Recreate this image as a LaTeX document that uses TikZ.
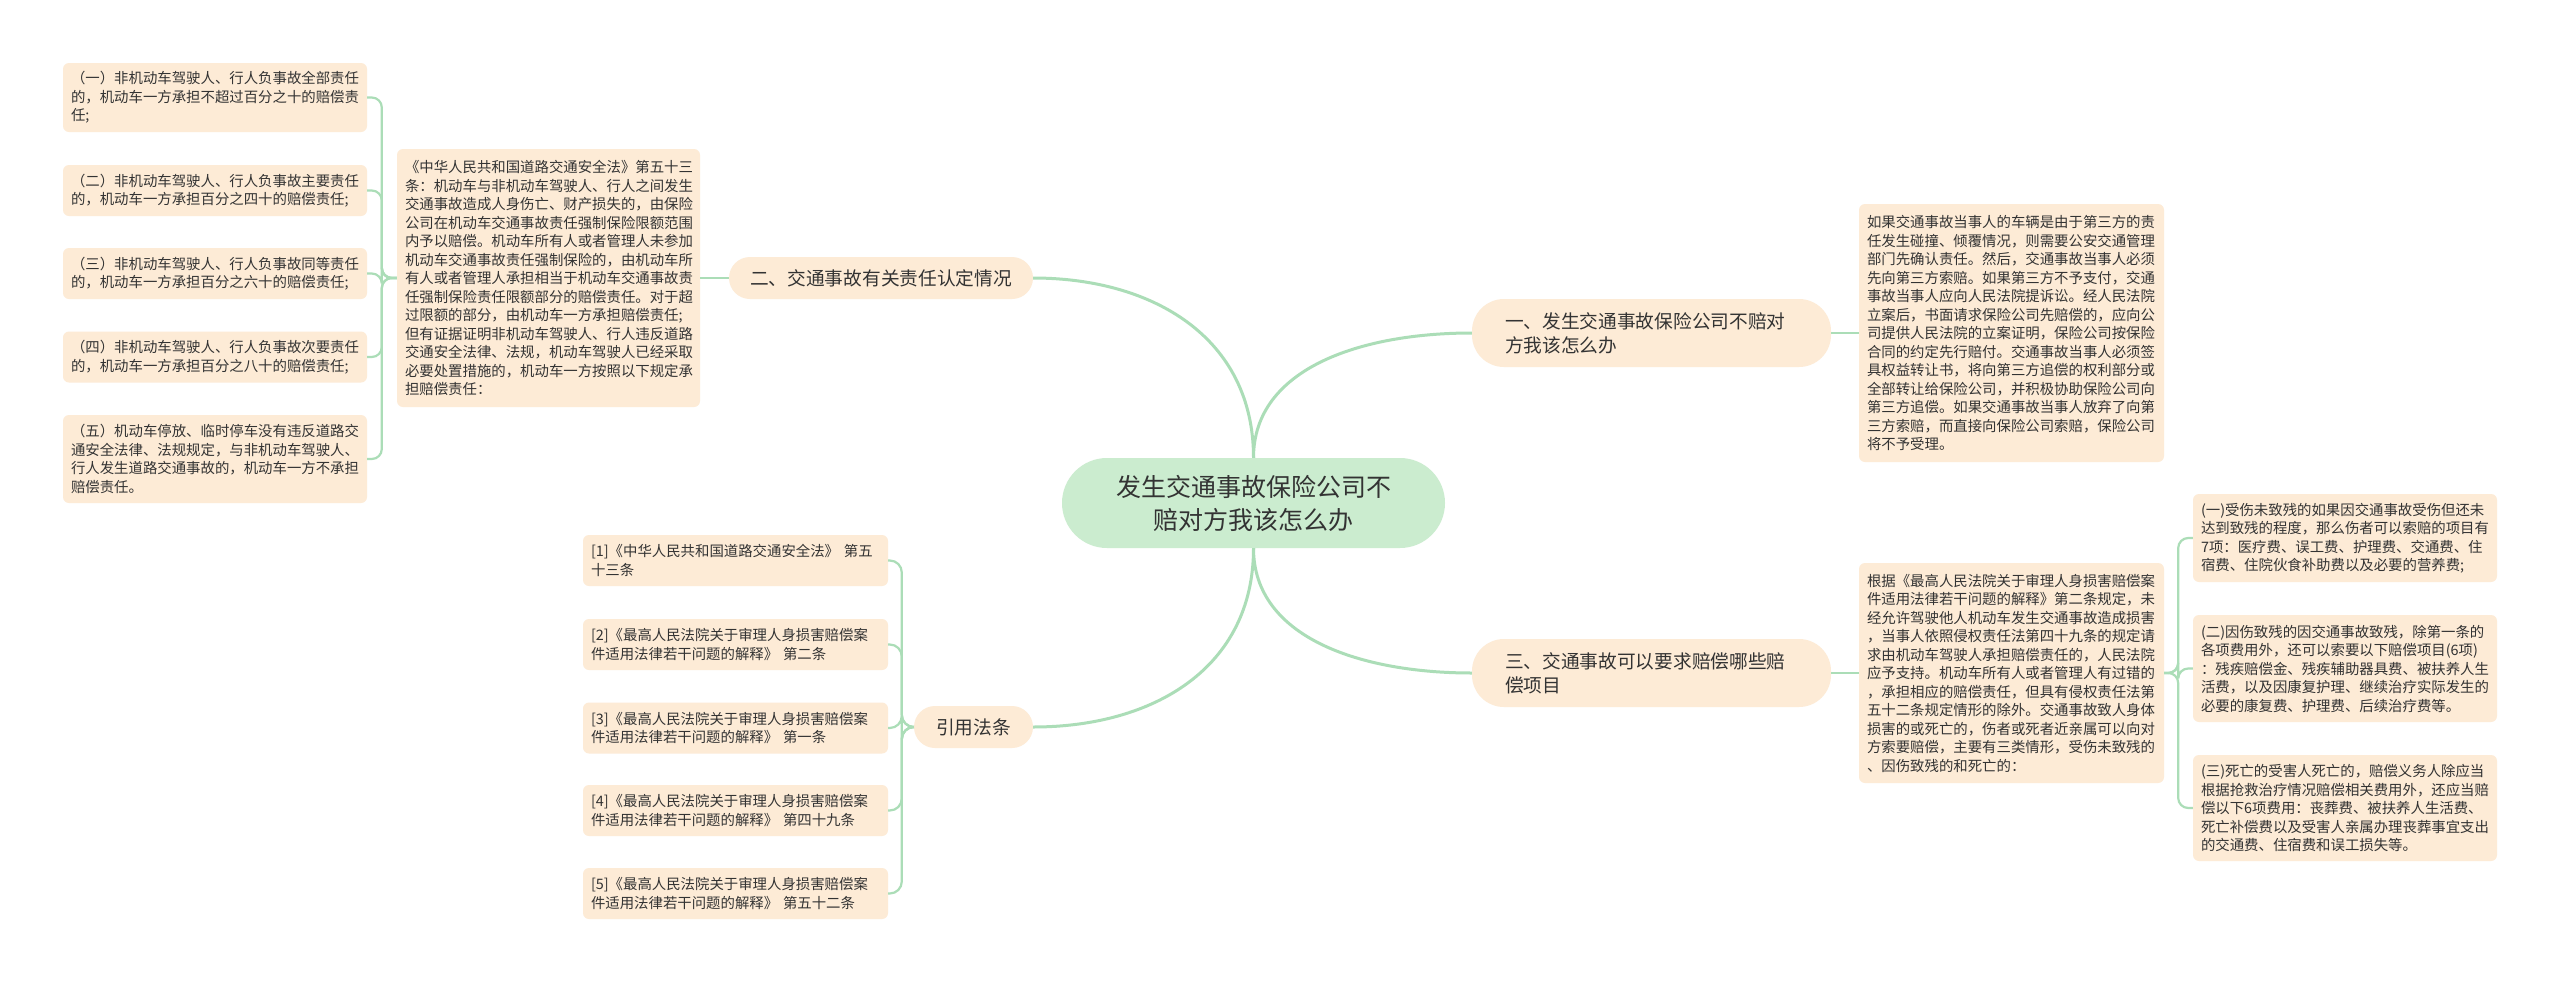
\documentclass[tikz,border=0pt]{standalone}
\usepackage{fontspec}
\setmainfont{Noto Sans CJK SC}
\definecolor{peach}{HTML}{FDEBD6}
\definecolor{rootg}{HTML}{CBECCF}
\definecolor{lineg}{HTML}{ABDDB7}
\definecolor{txt}{HTML}{333333}
\tikzset{
  box/.style={fill=peach, rounded corners=6pt, inner xsep=8pt, inner ysep=0pt, align=left, text=txt,
    font=\fontsize{14.4}{18.5}\selectfont},
  branchbox/.style={fill=peach, inner xsep=0pt, inner ysep=0pt, text=txt,
    font=\fontsize{18.7}{24}\selectfont},
  conn/.style={draw=lineg, line width=2.2pt},
  main/.style={draw=lineg, line width=3pt},
}
\begin{document}
\begin{tikzpicture}[x=1pt,y=-1pt]
\fill[white] (0,0) rectangle (2560,983);
\useasboundingbox (0,0) rectangle (2560,983);

% root
\node[fill=rootg, rounded corners=45pt, minimum width=383pt, minimum height=90pt, inner sep=0pt, align=center, text=txt,
  font=\fontsize{25}{33}\selectfont] (root) at (1253.5,503) {发生交通事故保险公司不\\赔对方我该怎么办};

% branches
\node[branchbox, rounded corners=21pt, minimum width=304pt, minimum height=42pt, align=center] (b2) at (881,278) {二、交通事故有关责任认定情况};
\node[branchbox, rounded corners=32pt, minimum height=68pt, text width=359pt, align=left] (b1) at (1651.5,333) {\hspace*{33pt}一、发生交通事故保险公司不赔对\\\hspace*{33pt}方我该怎么办};
\node[branchbox, rounded corners=32pt, minimum height=68pt, text width=359pt, align=left] (b3) at (1651.5,673) {\hspace*{33pt}三、交通事故可以要求赔偿哪些赔\\\hspace*{33pt}偿项目};
\node[branchbox, rounded corners=21pt, minimum width=119pt, minimum height=42pt, align=center] (cite) at (973.5,727) {引用法条};

% left big text
\node[box, text width=287pt, minimum height=258pt] (law) at (548.5,278) {《中华人民共和国道路交通安全法》第五十三\\条：机动车与非机动车驾驶人、行人之间发生\\交通事故造成人身伤亡、财产损失的，由保险\\公司在机动车交通事故责任强制保险限额范围\\内予以赔偿。机动车所有人或者管理人未参加\\机动车交通事故责任强制保险的，由机动车所\\有人或者管理人承担相当于机动车交通事故责\\任强制保险责任限额部分的赔偿责任。对于超\\过限额的部分，由机动车一方承担赔偿责任;\\但有证据证明非机动车驾驶人、行人违反道路\\交通安全法律、法规，机动车驾驶人已经采取\\必要处置措施的，机动车一方按照以下规定承\\担赔偿责任：};

% left leaves
\node[box, text width=288pt, minimum height=69pt] (l1) at (215,97.5) {（一）非机动车驾驶人、行人负事故全部责任\\的，机动车一方承担不超过百分之十的赔偿责\\任;};
\node[box, text width=288pt, minimum height=51pt] (l2) at (215,190.5) {（二）非机动车驾驶人、行人负事故主要责任\\的，机动车一方承担百分之四十的赔偿责任;};
\node[box, text width=288pt, minimum height=51pt] (l3) at (215,273.5) {（三）非机动车驾驶人、行人负事故同等责任\\的，机动车一方承担百分之六十的赔偿责任;};
\node[box, text width=288pt, minimum height=51pt] (l4) at (215,357) {（四）非机动车驾驶人、行人负事故次要责任\\的，机动车一方承担百分之八十的赔偿责任;};
\node[box, text width=288pt, minimum height=88pt] (l5) at (215,459) {（五）机动车停放、临时停车没有违反道路交\\通安全法律、法规规定，与非机动车驾驶人、\\行人发生道路交通事故的，机动车一方不承担\\赔偿责任。};

% right big texts
\node[box, text width=289pt, minimum height=258pt] (r1) at (2011.5,333) {如果交通事故当事人的车辆是由于第三方的责\\任发生碰撞、倾覆情况，则需要公安交通管理\\部门先确认责任。然后，交通事故当事人必须\\先向第三方索赔。如果第三方不予支付，交通\\事故当事人应向人民法院提诉讼。经人民法院\\立案后，书面请求保险公司先赔偿的，应向公\\司提供人民法院的立案证明，保险公司按保险\\合同的约定先行赔付。交通事故当事人必须签\\具权益转让书，将向第三方追偿的权利部分或\\全部转让给保险公司，并积极协助保险公司向\\第三方追偿。如果交通事故当事人放弃了向第\\三方索赔，而直接向保险公司索赔，保险公司\\将不予受理。};
\node[box, text width=289pt, minimum height=220pt] (r3) at (2011.5,673) {根据《最高人民法院关于审理人身损害赔偿案\\件适用法律若干问题的解释》第二条规定，未\\经允许驾驶他人机动车发生交通事故造成损害\\，当事人依照侵权责任法第四十九条的规定请\\求由机动车驾驶人承担赔偿责任的，人民法院\\应予支持。机动车所有人或者管理人有过错的\\，承担相应的赔偿责任，但具有侵权责任法第\\五十二条规定情形的除外。交通事故致人身体\\损害的或死亡的，伤者或死者近亲属可以向对\\方索要赔偿，主要有三类情形，受伤未致残的\\、因伤致残的和死亡的：};

% right leaves
\node[box, text width=288pt, minimum height=88pt] (ra) at (2345,538) {(一)受伤未致残的如果因交通事故受伤但还未\\达到致残的程度，那么伤者可以索赔的项目有\\7项：医疗费、误工费、护理费、交通费、住\\宿费、住院伙食补助费以及必要的营养费;};
\node[box, text width=288pt, minimum height=107pt] (rb) at (2345,668.5) {(二)因伤致残的因交通事故致残，除第一条的\\各项费用外，还可以索要以下赔偿项目(6项)\\：残疾赔偿金、残疾辅助器具费、被扶养人生\\活费，以及因康复护理、继续治疗实际发生的\\必要的康复费、护理费、后续治疗费等。};
\node[box, text width=288pt, minimum height=106pt] (rc) at (2345,808) {(三)死亡的受害人死亡的，赔偿义务人除应当\\根据抢救治疗情况赔偿相关费用外，还应当赔\\偿以下6项费用：丧葬费、被扶养人生活费、\\死亡补偿费以及受害人亲属办理丧葬事宜支出\\的交通费、住宿费和误工损失等。};

% citations
\node[box, text width=289pt, minimum height=51pt] (c1) at (735.5,560.5) {[1]《中华人民共和国道路交通安全法》 第五\\十三条};
\node[box, text width=289pt, minimum height=51pt] (c2) at (735.5,644.5) {[2]《最高人民法院关于审理人身损害赔偿案\\件适用法律若干问题的解释》 第二条};
\node[box, text width=289pt, minimum height=51pt] (c3) at (735.5,728) {[3]《最高人民法院关于审理人身损害赔偿案\\件适用法律若干问题的解释》 第一条};
\node[box, text width=289pt, minimum height=51pt] (c4) at (735.5,810.5) {[4]《最高人民法院关于审理人身损害赔偿案\\件适用法律若干问题的解释》 第四十九条};
\node[box, text width=289pt, minimum height=51pt] (c5) at (735.5,893.5) {[5]《最高人民法院关于审理人身损害赔偿案\\件适用法律若干问题的解释》 第五十二条};

% main connectors
\draw[main] (root.north) .. controls +(0,-120) and +(120,0) .. (b2.east);
\draw[main] (root.north) .. controls +(0,-90) and +(-110,0) .. (b1.west);
\draw[main] (root.south) .. controls +(0,120) and +(120,0) .. (cite.east);
\draw[main] (root.south) .. controls +(0,90) and +(-110,0) .. (b3.west);

% branch to text
\draw[conn] (b2.west) -- (law.east);
\draw[conn] (b1.east) -- (r1.west);
\draw[conn] (b3.east) -- (r3.west);

% brackets
\foreach \n in {l1,l2,l3,l4,l5}
  \draw[conn, rounded corners=10pt] (law.west) -- ++(-15,0) |- (\n.east);
\foreach \n in {ra,rb,rc}
  \draw[conn, rounded corners=10pt] (r3.east) -- ++(14,0) |- (\n.west);
\foreach \n in {c1,c2,c3,c4,c5}
  \draw[conn, rounded corners=12pt] (cite.west) -- ++(-12,0) |- (\n.east);
\end{tikzpicture}
\end{document}
